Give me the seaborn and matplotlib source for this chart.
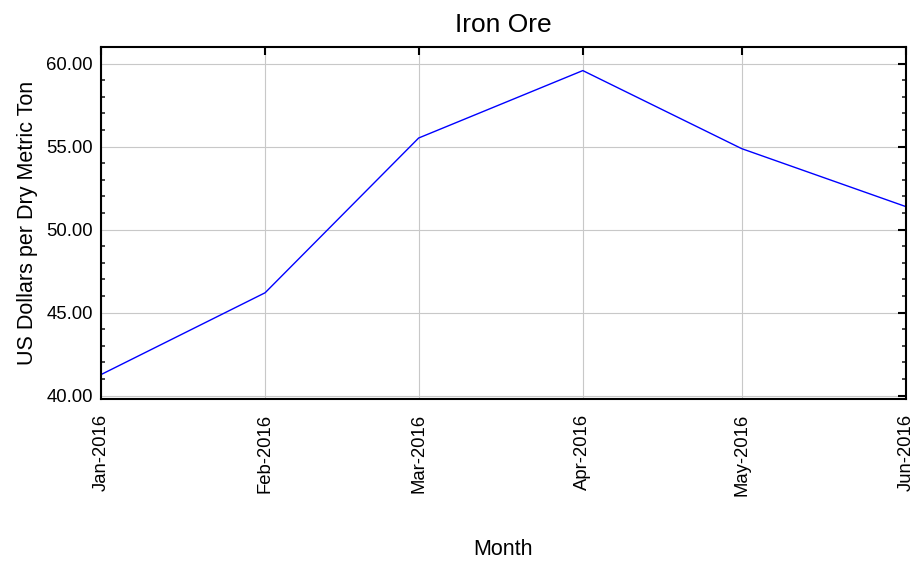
import matplotlib
matplotlib.use("Agg")
import matplotlib.pyplot as plt
import matplotlib.dates as mdates
from matplotlib.ticker import MultipleLocator, FormatStrFormatter
import pandas as pd
import seaborn as sns

months = ["2016-01-01", "2016-02-01", "2016-03-01", "2016-04-01", "2016-05-01", "2016-06-01"]
price = [41.27, 46.20, 55.52, 59.58, 54.88, 51.39]

df = pd.DataFrame({"Month": pd.to_datetime(months), "Price": price})

sns.set_style("white")
plt.rcParams["font.family"] = ["Liberation Sans", "DejaVu Sans"]
plt.rcParams["text.color"] = "black"
plt.rcParams["axes.labelcolor"] = "black"

fig = plt.figure(figsize=(9.14, 5.65), dpi=100)
ax = fig.add_axes([0.1105, 0.2938, 0.8805, 0.623])

sns.lineplot(data=df, x="Month", y="Price", color="#0000ff", linewidth=1.0, ax=ax)

ax.set_xlim(df["Month"].iloc[0], df["Month"].iloc[-1])
ax.set_ylim(39.8, 61.0)
ax.xaxis.set_major_locator(mdates.MonthLocator())
ax.xaxis.set_major_formatter(mdates.DateFormatter("%b-%Y"))
ax.yaxis.set_major_locator(MultipleLocator(5))
ax.yaxis.set_minor_locator(MultipleLocator(1))
ax.yaxis.set_major_formatter(FormatStrFormatter("%.2f"))

ax.grid(True, which="major", color="#c8c8c8", linestyle="-", linewidth=0.8)
for s in ax.spines.values():
    s.set_color("black")
    s.set_linewidth(1.5)
ax.tick_params(axis="both", which="major", direction="in", length=6, width=1.5,
               top=True, right=True, labelsize=13.3, colors="black")
ax.tick_params(axis="y", which="minor", direction="in", length=3, width=1.2,
               left=True, right=True)
ax.tick_params(axis="x", which="major", pad=10.5)
ax.tick_params(axis="y", which="major", pad=6)
plt.setp(ax.get_xticklabels(), rotation=90)

ax.set_title("Iron Ore", fontsize=19, pad=11)
ax.set_xlabel("Month", fontsize=15.5, labelpad=31)
ax.set_ylabel("US Dollars per Dry Metric Ton", fontsize=15.5, labelpad=6)

fig.savefig("out.png", dpi=100)
